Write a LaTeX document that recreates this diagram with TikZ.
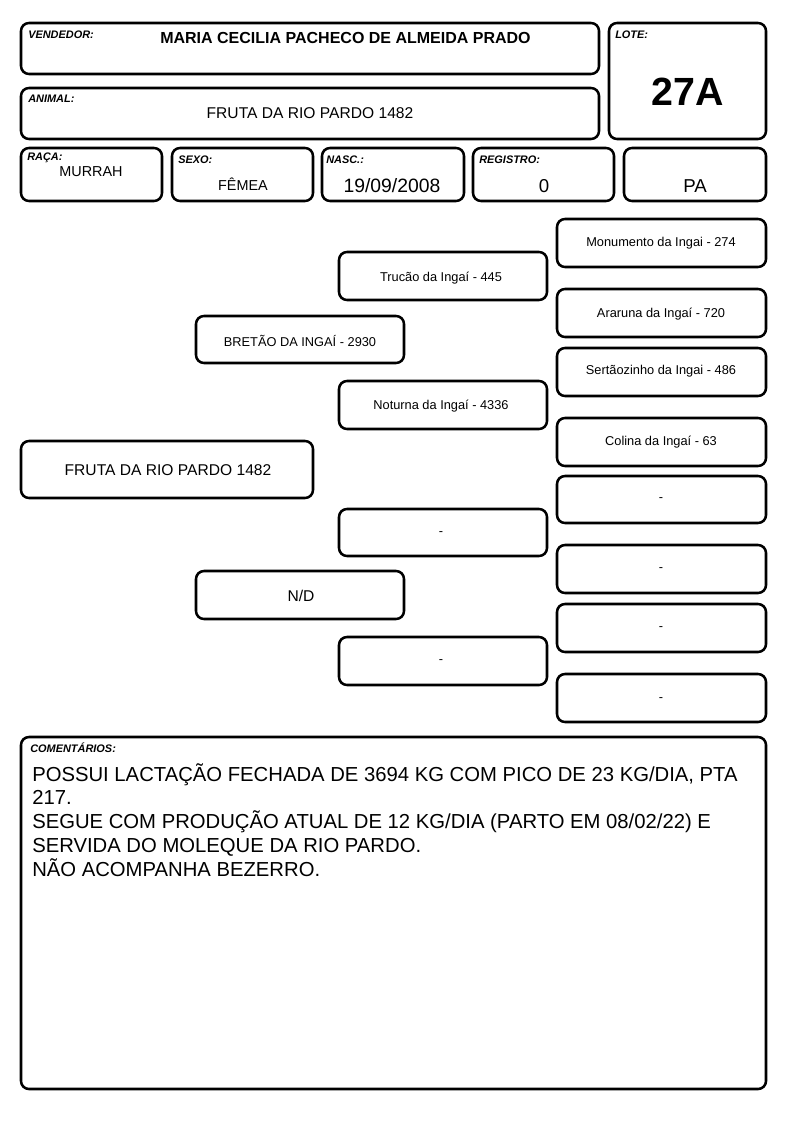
\documentclass[tikz,border=0pt]{standalone}
\usepackage{fontspec}
\setmainfont{Liberation Sans}
\usetikzlibrary{fit}
\tikzset{
  box/.style={draw, line width=1.9pt, rounded corners=6pt, inner sep=0pt},
  lbl/.style={anchor=west, inner sep=0pt, font=\fontsize{8.2}{9}\selectfont\bfseries\itshape},
  ped/.style={inner sep=0pt, font=\fontsize{9.6}{10}\selectfont},
  big/.style={inner sep=0pt, font=\fontsize{11.7}{13}\selectfont},
}
\begin{document}
\begin{tikzpicture}[x=0.75pt,y=-0.75pt]
\useasboundingbox (0,0) rectangle (794,1123);
% header boxes
\node[box, fit={(21,23) (599,74)}] (vend) {};
\node[box, fit={(609,23) (766,139)}] (lote) {};
\node[box, fit={(21,88) (599,139)}] (anim) {};
\node[box, fit={(21,148) (162,201)}] (raca) {};
\node[box, fit={(172,148) (313,201)}] (sexo) {};
\node[box, fit={(322,148) (464,201)}] (nasc) {};
\node[box, fit={(473,148) (614,201)}] (reg) {};
\node[box, fit={(624,148) (766,201)}] (uf) {};
% header labels
\node[lbl] (lvend) at (28,35) {VENDEDOR:};
\node[lbl] (llote) at (615,35) {LOTE:};
\node[lbl] (lanim) at (28,99) {ANIMAL:};
\node[lbl] (lraca) at (27,158) {RAÇA:};
\node[lbl] (lsexo) at (178,160) {SEXO:};
\node[lbl] (lnasc) at (326,160) {NASC.:};
\node[lbl] (lreg) at (479,160) {REGISTRO:};
% header values
\node[inner sep=0pt, font=\fontsize{12}{13}\selectfont\bfseries] (tvend) at (345.5,38) {MARIA CECILIA PACHECO DE ALMEIDA PRADO};
\node[inner sep=0pt, font=\fontsize{29.5}{31}\selectfont\bfseries] (tlote) at (688,92) {27A};
\node[big] (tanim) at (310,113) {FRUTA DA RIO PARDO 1482};
\node[inner sep=0pt, font=\fontsize{10.8}{12}\selectfont] (traca) at (91,172) {MURRAH};
\node[inner sep=0pt, font=\fontsize{10.8}{12}\selectfont] (tsexo) at (243,184) {FÊMEA};
\node[inner sep=0pt, font=\fontsize{14.5}{15}\selectfont] (tnasc) at (392,186) {19/09/2008};
\node[inner sep=0pt, font=\fontsize{14}{15}\selectfont] (treg) at (544,186) {0};
\node[inner sep=0pt, font=\fontsize{14}{15}\selectfont] (tuf) at (695,186) {PA};
% pedigree
\node[box, fit={(21,441) (313,498)}] (p0) {};
\node[big] (tp0) at (168,470) {FRUTA DA RIO PARDO 1482};
\node[box, fit={(196,316) (404,363)}] (p1) {};
\node[ped] (tp1) at (300,341) {BRETÃO DA INGAÍ - 2930};
\node[box, fit={(196,571) (404,619)}] (p2) {};
\node[big] (tp2) at (301,596) {N/D};
\node[box, fit={(339,252) (547,300)}] (p3) {};
\node[ped] (tp3) at (441,278) {Trucão da Ingaí - 445};
\node[box, fit={(339,381) (547,429)}] (p4) {};
\node[ped] (tp4) at (441,406) {Noturna da Ingaí - 4336};
\node[box, fit={(339,509) (547,556)}] (p5) {};
\node[ped] (tp5) at (441,534) {-};
\node[box, fit={(339,637) (547,685)}] (p6) {};
\node[ped] (tp6) at (441,662) {-};
\node[box, fit={(557,219) (766,267)}] (p7) {};
\node[ped] (tp7) at (661,243) {Monumento da Ingai - 274};
\node[box, fit={(557,289) (766,337)}] (p8) {};
\node[ped] (tp8) at (661,314) {Araruna da Ingaí - 720};
\node[box, fit={(557,348) (766,396)}] (p9) {};
\node[ped] (tp9) at (661,371) {Sertãozinho da Ingai - 486};
\node[box, fit={(557,418) (766,466)}] (p10) {};
\node[ped] (tp10) at (661,442) {Colina da Ingaí - 63};
\node[box, fit={(557,476) (766,523)}] (p11) {};
\node[ped] (tp11) at (661,500) {-};
\node[box, fit={(557,545) (766,593)}] (p12) {};
\node[ped] (tp12) at (661,570) {-};
\node[box, fit={(557,604) (766,652)}] (p13) {};
\node[ped] (tp13) at (661,629) {-};
\node[box, fit={(557,674) (766,722)}] (p14) {};
\node[ped] (tp14) at (661,700) {-};
% comments
\node[box, fit={(21,737) (766,1089)}] (com) {};
\node[lbl] (lcom) at (30,748) {COMENTÁRIOS:};
\node[anchor=north west, inner sep=0pt, align=left, font=\fontsize{15.2}{17.8}\selectfont] (tcom) at (32,763)
{POSSUI LACTAÇÃO FECHADA DE 3694 KG COM PICO DE 23 KG/DIA, PTA\\
217.\\
SEGUE COM PRODUÇÃO ATUAL DE 12 KG/DIA (PARTO EM 08/02/22) E\\
SERVIDA DO MOLEQUE DA RIO PARDO.\\
NÃO ACOMPANHA BEZERRO.};
\end{tikzpicture}
\end{document}
